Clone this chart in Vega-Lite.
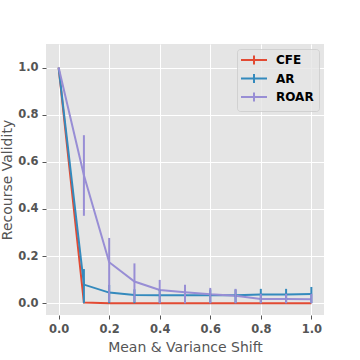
{
  "$schema": "https://vega.github.io/schema/vega-lite/v6.json",
  "autosize": "none",
  "width": 278,
  "height": 271,
  "padding": {"left": 46, "top": 44, "right": 36, "bottom": 45},
  "background": "white",
  "config": {
    "view": {"fill": "#E5E5E5", "stroke": null},
    "axis": {
      "grid": true, "gridColor": "white", "gridWidth": 1, "domain": false,
      "tickColor": "#555555", "tickSize": 4, "tickWidth": 1,
      "labelFont": "DejaVu Sans", "labelFontWeight": "bold", "labelFontSize": 11.5, "labelColor": "#555555", "labelPadding": 4,
      "titleFont": "DejaVu Sans", "titleFontWeight": "normal", "titleFontSize": 14, "titleColor": "#555555"
    }
  },
  "data": {"values": [
    {"method": "CFE", "shift": 0.0, "mean": 1.0, "lo": 1.0, "hi": 1.0},
    {"method": "CFE", "shift": 0.1, "mean": 0.003, "lo": 0.003, "hi": 0.003},
    {"method": "CFE", "shift": 0.2, "mean": 0.0, "lo": 0.0, "hi": 0.0},
    {"method": "CFE", "shift": 0.3, "mean": 0.0, "lo": 0.0, "hi": 0.0},
    {"method": "CFE", "shift": 0.4, "mean": 0.0, "lo": 0.0, "hi": 0.0},
    {"method": "CFE", "shift": 0.5, "mean": 0.0, "lo": 0.0, "hi": 0.0},
    {"method": "CFE", "shift": 0.6, "mean": 0.0, "lo": 0.0, "hi": 0.0},
    {"method": "CFE", "shift": 0.7, "mean": 0.0, "lo": 0.0, "hi": 0.0},
    {"method": "CFE", "shift": 0.8, "mean": 0.0, "lo": 0.0, "hi": 0.0},
    {"method": "CFE", "shift": 0.9, "mean": 0.0, "lo": 0.0, "hi": 0.0},
    {"method": "CFE", "shift": 1.0, "mean": 0.0, "lo": 0.0, "hi": 0.0},
    {"method": "AR", "shift": 0.0, "mean": 1.0, "lo": 1.0, "hi": 1.0},
    {"method": "AR", "shift": 0.1, "mean": 0.079, "lo": 0.0, "hi": 0.145},
    {"method": "AR", "shift": 0.2, "mean": 0.045, "lo": 0.0, "hi": 0.078},
    {"method": "AR", "shift": 0.3, "mean": 0.035, "lo": 0.0, "hi": 0.059},
    {"method": "AR", "shift": 0.4, "mean": 0.034, "lo": 0.0, "hi": 0.058},
    {"method": "AR", "shift": 0.5, "mean": 0.034, "lo": 0.0, "hi": 0.058},
    {"method": "AR", "shift": 0.6, "mean": 0.034, "lo": 0.0, "hi": 0.058},
    {"method": "AR", "shift": 0.7, "mean": 0.034, "lo": 0.0, "hi": 0.058},
    {"method": "AR", "shift": 0.8, "mean": 0.037, "lo": 0.0, "hi": 0.061},
    {"method": "AR", "shift": 0.9, "mean": 0.037, "lo": 0.0, "hi": 0.061},
    {"method": "AR", "shift": 1.0, "mean": 0.039, "lo": 0.0, "hi": 0.069},
    {"method": "ROAR", "shift": 0.0, "mean": 1.0, "lo": 1.0, "hi": 1.0},
    {"method": "ROAR", "shift": 0.1, "mean": 0.543, "lo": 0.371, "hi": 0.713},
    {"method": "ROAR", "shift": 0.2, "mean": 0.174, "lo": 0.005, "hi": 0.277},
    {"method": "ROAR", "shift": 0.3, "mean": 0.092, "lo": 0.005, "hi": 0.169},
    {"method": "ROAR", "shift": 0.4, "mean": 0.056, "lo": 0.0, "hi": 0.099},
    {"method": "ROAR", "shift": 0.5, "mean": 0.047, "lo": 0.0, "hi": 0.078},
    {"method": "ROAR", "shift": 0.6, "mean": 0.038, "lo": 0.0, "hi": 0.065},
    {"method": "ROAR", "shift": 0.7, "mean": 0.032, "lo": 0.0, "hi": 0.061},
    {"method": "ROAR", "shift": 0.8, "mean": 0.018, "lo": 0.0, "hi": 0.04},
    {"method": "ROAR", "shift": 0.9, "mean": 0.018, "lo": 0.0, "hi": 0.04},
    {"method": "ROAR", "shift": 1.0, "mean": 0.017, "lo": 0.0, "hi": 0.04}
  ]},
  "layer": [
    {
      "mark": {"type": "line", "strokeWidth": 2},
      "encoding": {
        "x": {"field": "shift", "type": "quantitative", "title": "Mean & Variance Shift",
              "scale": {"domain": [-0.05, 1.05], "nice": false, "zero": false},
              "axis": {"values": [0, 0.2, 0.4, 0.6, 0.8, 1.0], "format": ".1f", "titlePadding": 6}},
        "y": {"field": "mean", "type": "quantitative", "title": "Recourse Validity",
              "scale": {"domain": [-0.05, 1.1], "nice": false, "zero": false},
              "axis": {"values": [0, 0.2, 0.4, 0.6, 0.8, 1.0], "format": ".1f", "titlePadding": 3}},
        "color": {"field": "method", "type": "nominal",
                  "scale": {"domain": ["CFE", "AR", "ROAR"], "range": ["#E24A33", "#348ABD", "#988ED5"]},
                  "legend": {"title": null, "orient": "top-right", "offset": 5,
                             "fillColor": "rgba(229,229,229,0.8)", "strokeColor": "rgba(204,204,204,0.8)", "cornerRadius": 3,
                             "padding": 5, "rowPadding": 0.5,
                             "symbolType": "M-2.6,0H2.6M0,-0.9V0.9", "symbolSize": 100, "symbolStrokeWidth": 2,
                             "symbolOffset": 6, "labelOffset": 16,
                             "labelFont": "DejaVu Sans", "labelFontWeight": "bold", "labelFontSize": 12, "labelColor": "black"}}
      }
    },
    {
      "mark": {"type": "rule", "strokeWidth": 2},
      "encoding": {
        "x": {"field": "shift", "type": "quantitative"},
        "y": {"field": "lo", "type": "quantitative"},
        "y2": {"field": "hi"},
        "color": {"field": "method", "type": "nominal"}
      }
    }
  ]
}
